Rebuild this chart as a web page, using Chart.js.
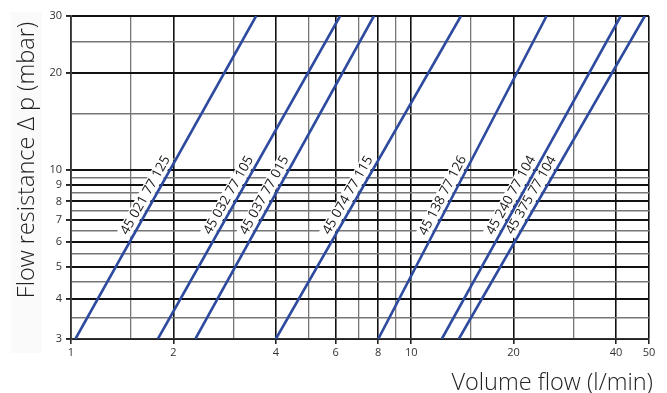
<!DOCTYPE html>
<html>
<head>
<meta charset="utf-8">
<script src="https://cdn.jsdelivr.net/npm/chart.js@4.4.1/dist/chart.umd.min.js"></script>
<style>
  html, body { margin: 0; padding: 0; background: #fff; }
  #wrap { width: 667px; height: 393px; }
</style>
</head>
<body>
<div id="wrap"><canvas id="flowChart" width="667" height="393"></canvas></div>
<script>
// grid lines and labelled ticks (log-log chart)
const flowGrid = [1, 1.5, 2, 3, 4, 5, 6, 7, 8, 9, 10, 15, 20, 30, 40, 50];
const flowLabels = [1, 2, 4, 6, 8, 10, 20, 40, 50];
const pressureGrid = [3, 3.5, 4, 4.5, 5, 5.5, 6, 6.5, 7, 7.5, 8, 8.5, 9, 9.5, 10, 15, 20, 25, 30];
const pressureLabels = [3, 4, 5, 6, 7, 8, 9, 10, 20, 30];

// one straight line per article, read where it enters at 3 mbar and leaves at 30 mbar
const articles = ['45 021 77 125', '45 032 77 105', '45 037 77 015', '45 074 77 115',
                  '45 138 77 126', '45 240 77 104', '45 375 77 104'];
const flowAt3 = [1.03, 1.80, 2.32, 4.0, 8.0, 12.3, 13.8];
const flowAt30 = [3.5, 6.18, 7.77, 14.0, 25.0, 41.3, 48.6];
const pressureEnds = [3, 30];
const labelPressure = 8.1; // where the article numbers sit along the lines

const FONT = '"Open Sans", "DejaVu Sans", sans-serif';
const isFlowMajor = v => flowLabels.includes(v);
const isPressureMajor = v => pressureLabels.includes(v);

// white boxed article numbers written along each line
const lineLabels = {
    id: 'lineLabels',
    beforeDatasetsDraw(chart) {
        const { ctx, scales: { x, y } } = chart;
        ctx.save();
        ctx.font = '13.5px ' + FONT;
        ctx.textAlign = 'center';
        ctx.textBaseline = 'middle';
        const t = Math.log(labelPressure / pressureEnds[0]) / Math.log(pressureEnds[1] / pressureEnds[0]);
        articles.forEach((name, i) => {
            const x0 = x.getPixelForValue(flowAt3[i]), y0 = y.getPixelForValue(pressureEnds[0]);
            const x1 = x.getPixelForValue(flowAt30[i]), y1 = y.getPixelForValue(pressureEnds[1]);
            const angle = Math.atan2(y1 - y0, x1 - x0);
            const off = 9;
            const px = x0 + (x1 - x0) * t + Math.sin(angle) * off;
            const py = y0 + (y1 - y0) * t - Math.cos(angle) * off;
            const w = ctx.measureText(name).width;
            ctx.save();
            ctx.translate(px, py);
            ctx.rotate(angle);
            ctx.fillStyle = '#fff';
            ctx.fillRect(-w / 2 - 2, -7, w + 4, 14);
            ctx.fillStyle = '#1a1a1a';
            ctx.fillText(name, 0, 0);
            ctx.restore();
        });
        ctx.restore();
    }
};

// axis titles and the pale strip behind the vertical one
const axisTitles = {
    id: 'axisTitles',
    beforeDraw(chart) {
        const ctx = chart.ctx;
        ctx.save();
        ctx.fillStyle = '#fafafa';
        ctx.fillRect(11, 12, 31, 341);
        ctx.restore();
    },
    afterDraw(chart) {
        const ctx = chart.ctx;
        ctx.save();
        ctx.fillStyle = '#222';
        ctx.font = '300 23.5px ' + FONT;
        ctx.textBaseline = 'alphabetic';
        ctx.textAlign = 'right';
        ctx.fillText('Volume flow (l/min)', 653, 390);
        ctx.translate(34, 160);
        ctx.rotate(-Math.PI / 2);
        ctx.textAlign = 'center';
        ctx.fillText('Flow resistance \u0394 p (mbar)', 0, 0);
        ctx.restore();
    }
};

const datasets = articles.map((name, i) => ({
    label: name,
    data: [{ x: flowAt3[i], y: pressureEnds[0] }, { x: flowAt30[i], y: pressureEnds[1] }],
    borderColor: '#2d4a9e',
    borderWidth: 2.6,
    pointRadius: 0,
    tension: 0,
    fill: false
}));

new Chart(document.getElementById('flowChart'), {
    type: 'line',
    data: { datasets: datasets },
    plugins: [lineLabels, axisTitles],
    options: {
        responsive: false,
        animation: false,
        layout: { padding: { top: 16, right: 18, left: 0, bottom: 0 } },
        plugins: {
            legend: { display: false },
            tooltip: { enabled: false }
        },
        scales: {
            x: {
                type: 'logarithmic',
                min: 1,
                max: 50,
                afterBuildTicks: scale => { scale.ticks = flowGrid.map(v => ({ value: v })); },
                afterFit: scale => { scale.height = 54; },
                ticks: {
                    autoSkip: false,
                    maxRotation: 0,
                    padding: 2,
                    color: '#333',
                    font: { family: FONT, size: 11 },
                    callback: v => isFlowMajor(v) ? String(v) : ''
                },
                grid: {
                    color: c => (c.tick && isFlowMajor(c.tick.value)) ? '#111' : '#777',
                    lineWidth: c => (c.tick && isFlowMajor(c.tick.value)) ? 1.6 : 1.3,
                    tickColor: c => (c.tick && isFlowMajor(c.tick.value)) ? '#222' : 'rgba(0,0,0,0)',
                    tickLength: 5
                },
                border: { display: true, color: '#333', width: 1.6 }
            },
            y: {
                type: 'logarithmic',
                min: 3,
                max: 30,
                afterBuildTicks: scale => { scale.ticks = pressureGrid.map(v => ({ value: v })); },
                afterFit: scale => { scale.width = 71; },
                ticks: {
                    autoSkip: false,
                    padding: 4,
                    color: '#333',
                    font: { family: FONT, size: 11 },
                    callback: v => isPressureMajor(v) ? String(v) : ''
                },
                grid: {
                    color: c => (c.tick && isPressureMajor(c.tick.value)) ? '#111' : '#777',
                    lineWidth: c => (c.tick && isPressureMajor(c.tick.value)) ? 1.9 : 1.4,
                    tickColor: c => (c.tick && isPressureMajor(c.tick.value)) ? '#222' : 'rgba(0,0,0,0)',
                    tickLength: 5
                },
                border: { display: true, color: '#333', width: 1.6 }
            }
        }
    }
});
</script>
</body>
</html>
